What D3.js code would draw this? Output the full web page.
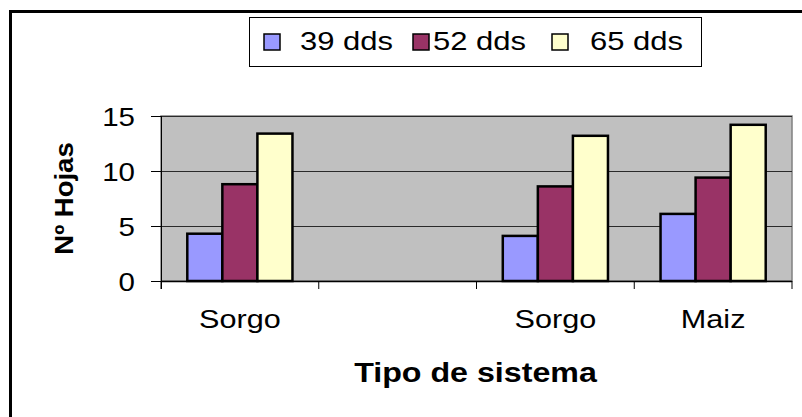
<!DOCTYPE html>
<html>
<head>
<meta charset="utf-8">
<script src="https://cdn.jsdelivr.net/npm/d3@7"></script>
<style>
  html, body { margin: 0; padding: 0; background: #fff; }
  svg { display: block; }
  text { font-family: Arial, "Liberation Sans", sans-serif; fill: #000; }
</style>
</head>
<body>
<svg id="chart" width="802" height="417"></svg>
<script>
// ---- data ----
const categories = ["Sorgo", "", "Sorgo", "Maiz"];
const seriesNames = ["39 dds", "52 dds", "65 dds"];
const s39 = [4.3, null, 4.1, 6.1];
const s52 = [8.8, null, 8.6, 9.4];
const s65 = [13.4, null, 13.2, 14.2];
const yTicks = [0, 5, 10, 15];
const colors = ["#9999FF", "#993366", "#FFFFCC"];
const xTitle = "Tipo de sistema";
const yTitle = "Nº Hojas";

const seriesValues = [s39, s52, s65];

const svg = d3.select("#chart");
const plot = { left: 161, right: 792, top: 116, bottom: 281 };

// outer frame (extends beyond the visible area)
svg.append("rect")
  .attr("x", 10.5).attr("y", 11.5)
  .attr("width", 1000).attr("height", 1000)
  .attr("fill", "#fff").attr("stroke", "#000").attr("stroke-width", 3);

// scales
const idx = d3.range(categories.length);
const x0 = d3.scaleBand().domain(idx).range([plot.left, plot.right]).padding(0);
const x1 = d3.scaleBand().domain(d3.range(seriesNames.length))
  .range([0, x0.bandwidth()]).paddingInner(0).paddingOuter(0.75);
const y = d3.scaleLinear().domain([0, 15]).range([plot.bottom, plot.top]);

// plot background
svg.append("rect")
  .attr("x", plot.left).attr("y", plot.top)
  .attr("width", plot.right - plot.left).attr("height", plot.bottom - plot.top)
  .attr("fill", "#C0C0C0").attr("stroke", "#808080").attr("stroke-width", 1.5);

// gridlines
svg.append("g").selectAll("line")
  .data(yTicks.filter(t => t > 0))
  .join("line")
  .attr("x1", plot.left).attr("x2", plot.right)
  .attr("y1", d => Math.round(y(d)) + 0.5).attr("y2", d => Math.round(y(d)) + 0.5)
  .attr("stroke", "#2a2a2a").attr("stroke-width", 1);

// bars
const rows = idx.map(i => ({ i, vals: seriesValues.map(s => s[i]) }));
const groups = svg.append("g").selectAll("g")
  .data(rows).join("g")
  .attr("transform", d => `translate(${x0(d.i)},0)`);
groups.selectAll("rect")
  .data(d => d.vals.map((v, k) => ({ v, k })).filter(e => e.v != null))
  .join("rect")
  .attr("x", e => x1(e.k))
  .attr("width", x1.bandwidth())
  .attr("y", e => y(e.v))
  .attr("height", e => y(0) - y(e.v))
  .attr("fill", e => colors[e.k])
  .attr("stroke", "#000").attr("stroke-width", 2.5);

// y axis
const YSX = 1.18;
const yAxis = svg.append("g")
  .attr("transform", `translate(${plot.left},0)`)
  .call(d3.axisLeft(y).tickValues(yTicks).tickSize(10).tickFormat(d3.format("d")));
yAxis.select(".domain").attr("stroke", "#000").attr("stroke-width", 1)
  .attr("d", `M0.5,${plot.top}V${plot.bottom + 8}`);
yAxis.selectAll(".tick line").attr("stroke", "#000");
yAxis.selectAll(".tick text")
  .attr("font-size", 25).attr("font-family", "Arial, 'Liberation Sans', sans-serif")
  .attr("x", -26 / YSX).attr("dy", "0.36em")
  .attr("transform", `scale(${YSX},1)`);

// x axis (labels at band centres)
const XSX = 1.2;
const xAxis = svg.append("g")
  .attr("transform", `translate(0,${plot.bottom})`)
  .call(d3.axisBottom(x0).tickSize(0).tickFormat(i => categories[i]));
xAxis.select(".domain").attr("stroke", "#000").attr("stroke-width", 1.5)
  .attr("d", `M${plot.left},0.5H${plot.right}`);
xAxis.selectAll(".tick text")
  .attr("font-size", 25.5).attr("font-family", "Arial, 'Liberation Sans', sans-serif")
  .attr("y", 47.5).attr("dy", 0)
  .attr("transform", `scale(${XSX},1)`);
xAxis.selectAll(".tick").attr("transform", function () {
  const t = d3.select(this).attr("transform");
  const m = /translate\(([-\d.]+),/.exec(t);
  return `translate(${m[1]},0)`;
});
xAxis.selectAll(".tick text").attr("x", 0);
// keep label centre after scaling
xAxis.selectAll(".tick").each(function () {
  const g = d3.select(this);
  const tx = +/translate\(([-\d.]+),/.exec(g.attr("transform"))[1];
  g.attr("transform", `translate(${tx},0)`);
  g.select("text").attr("transform", `scale(${XSX},1)`);
});

// boundary tick marks between categories
const bounds = idx.map(i => x0(i)).concat([x0.range()[1]]);
svg.append("g").selectAll("line")
  .data(bounds).join("line")
  .attr("x1", d => d).attr("x2", d => d)
  .attr("y1", plot.bottom).attr("y2", plot.bottom + 8)
  .attr("stroke", "#000").attr("stroke-width", 1);

// axis titles
svg.append("text")
  .attr("transform", `translate(${(plot.left + plot.right) / 2 - 1},382) scale(1.15,1)`)
  .attr("text-anchor", "middle")
  .attr("font-size", 28).attr("font-weight", "bold")
  .text(xTitle);

svg.append("text")
  .attr("transform", `translate(73,${(plot.top + plot.bottom) / 2}) rotate(-90) scale(1.1,1)`)
  .attr("text-anchor", "middle")
  .attr("font-size", 25).attr("font-weight", "bold")
  .text(yTitle);

// legend
const legend = svg.append("g");
legend.append("rect")
  .attr("x", 249.5).attr("y", 17.5).attr("width", 452).attr("height", 49)
  .attr("fill", "#fff").attr("stroke", "#000").attr("stroke-width", 1);
const swatchX = [264, 413, 552];
const textX = [300, 433, 590];
const items = legend.selectAll("g.item")
  .data(seriesNames.map((n, k) => ({ n, k })))
  .join("g").attr("class", "item");
items.append("rect")
  .attr("x", d => swatchX[d.k]).attr("y", 34)
  .attr("width", 16).attr("height", 16)
  .attr("fill", d => colors[d.k]).attr("stroke", "#000").attr("stroke-width", 1.5);
items.append("text")
  .attr("transform", d => `translate(${textX[d.k]},49.5) scale(1.24,1)`)
  .attr("font-size", 25)
  .text(d => d.n);
</script>
</body>
</html>
